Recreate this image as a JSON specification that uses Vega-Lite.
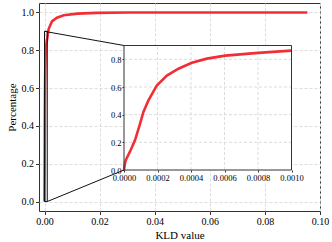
{
  "$schema": "https://vega.github.io/schema/vega-lite/v6.json",
  "width": 281,
  "height": 208,
  "autosize": {"type": "none"},
  "padding": {"left": 39, "top": 3, "right": 12, "bottom": 31},
  "config": {
    "font": "Liberation Serif",
    "view": {"stroke": "#333333", "strokeWidth": 1},
    "axis": {"labelFont": "Liberation Serif", "titleFont": "Liberation Serif", "labelColor": "#000", "titleColor": "#000", "titleFontWeight": "normal", "tickColor": "#333", "domain": false, "labelFlush": false, "labelOverlap": false}
  },
  "datasets": {
    "main": [
      {"kld": 0, "pct": 0},
      {"kld": 0.000012, "pct": 0.07},
      {"kld": 0.00004, "pct": 0.14},
      {"kld": 0.000066, "pct": 0.22},
      {"kld": 0.0001, "pct": 0.34},
      {"kld": 0.00012, "pct": 0.42},
      {"kld": 0.00015, "pct": 0.5},
      {"kld": 0.0002, "pct": 0.61},
      {"kld": 0.00026, "pct": 0.68},
      {"kld": 0.00033, "pct": 0.73},
      {"kld": 0.0004, "pct": 0.775},
      {"kld": 0.0005, "pct": 0.805},
      {"kld": 0.0006, "pct": 0.827},
      {"kld": 0.0008, "pct": 0.847},
      {"kld": 0.001, "pct": 0.863},
      {"kld": 0.0015, "pct": 0.912},
      {"kld": 0.0027, "pct": 0.953},
      {"kld": 0.0045, "pct": 0.972},
      {"kld": 0.007, "pct": 0.985},
      {"kld": 0.012, "pct": 0.994},
      {"kld": 0.019, "pct": 0.998},
      {"kld": 0.03, "pct": 0.9995},
      {"kld": 0.05, "pct": 1.0},
      {"kld": 0.0954, "pct": 1.0}
    ],
    "inset": [
      {"kld": 0, "pct": 0.0},
      {"kld": 0.000006, "pct": 0.05},
      {"kld": 0.000012, "pct": 0.075},
      {"kld": 0.00004, "pct": 0.145},
      {"kld": 0.000066, "pct": 0.216},
      {"kld": 0.000096, "pct": 0.336},
      {"kld": 0.000116, "pct": 0.42},
      {"kld": 0.000146, "pct": 0.504},
      {"kld": 0.000196, "pct": 0.611},
      {"kld": 0.000256, "pct": 0.683},
      {"kld": 0.000325, "pct": 0.732},
      {"kld": 0.000405, "pct": 0.775},
      {"kld": 0.000495, "pct": 0.805},
      {"kld": 0.000605, "pct": 0.827},
      {"kld": 0.0008, "pct": 0.847},
      {"kld": 0.001, "pct": 0.863}
    ]
  },
  "layer": [
    {
      "layer": [
        {
          "data": {"name": "main"},
          "mark": {"type": "line", "color": "#f01c24", "strokeWidth": 2.6, "opacity": 0.92},
          "encoding": {
            "x": {"field": "kld", "type": "quantitative", "scale": {"domain": [-0.002, 0.1], "nice": false, "zero": false},
              "axis": {"orient": "bottom", "values": [0, 0.02, 0.04, 0.06, 0.08, 0.1], "format": ".2f", "grid": true, "gridDash": [3, 2], "gridColor": "#dddddd", "tickSize": 3.5, "labelFontSize": 10, "labelPadding": 2, "title": "KLD value", "titleFontSize": 11, "titlePadding": 3}},
            "y": {"field": "pct", "type": "quantitative", "scale": {"domain": [-0.05, 1.05], "nice": false, "zero": false},
              "axis": {"orient": "left", "values": [0, 0.2, 0.4, 0.6, 0.8, 1.0], "format": ".1f", "grid": true, "gridDash": [3, 2], "gridColor": "#dddddd", "tickSize": 3.5, "labelFontSize": 10, "labelPadding": 2, "title": "Percentage", "titleFontSize": 11, "titlePadding": 4}}
          }
        },
        {
          "data": {"values": [{"x": 0, "x2": 0.001, "y": 0, "y2": 0.9}]},
          "mark": {"type": "rect", "fill": null, "fillOpacity": 0, "stroke": "#111", "strokeWidth": 1},
          "encoding": {
            "x": {"field": "x", "type": "quantitative"},
            "x2": {"field": "x2"},
            "y": {"field": "y", "type": "quantitative"},
            "y2": {"field": "y2"}
          }
        },
        {
          "data": {"values": [
            {"x": 0, "y": 0.9, "x2": 0.02885, "y2": 0.8252},
            {"x": 0.001, "y": 0, "x2": 0.02885, "y2": 0.1669}
          ]},
          "mark": {"type": "rule", "color": "#111", "strokeWidth": 1},
          "encoding": {
            "x": {"field": "x", "type": "quantitative"},
            "x2": {"field": "x2"},
            "y": {"field": "y", "type": "quantitative"},
            "y2": {"field": "y2"}
          }
        }
      ]
    },
    {
      "layer": [
        {
          "data": {"values": [{"x": 0, "x2": 0.001, "y": 0, "y2": 0.9}]},
          "mark": {"type": "rect", "fill": "white", "stroke": null},
          "encoding": {
            "x": {"field": "x", "type": "quantitative", "scale": {"domain": [0, 0.001], "range": [85, 252.5], "nice": false, "zero": false},
              "axis": {"orient": "bottom", "offset": -41, "values": [0, 0.0002, 0.0004, 0.0006, 0.0008, 0.001], "format": ".4f", "grid": false, "tickSize": 2, "labelFontSize": 8.5, "labelPadding": 1, "labelColor": "#000", "title": null}},
            "x2": {"field": "x2"},
            "y": {"field": "y", "type": "quantitative", "scale": {"domain": [0, 0.9], "range": [167, 42.5], "nice": false, "zero": false},
              "axis": {"orient": "left", "offset": -85, "values": [0, 0.2, 0.4, 0.6, 0.8], "format": ".1f", "grid": false, "tickSize": 2, "labelFontSize": 8.5, "labelPadding": 1, "labelColor": "#000", "title": null}},
            "y2": {"field": "y2"}
          }
        },
        {
          "data": {"values": [{"v": 0.0002}, {"v": 0.0004}, {"v": 0.0006}, {"v": 0.0008}]},
          "mark": {"type": "rule", "color": "#dddddd", "strokeDash": [3, 2], "strokeWidth": 1},
          "encoding": {
            "x": {"field": "v", "type": "quantitative"},
            "y": {"datum": 0},
            "y2": {"datum": 0.9}
          }
        },
        {
          "data": {"values": [{"v": 0.2}, {"v": 0.4}, {"v": 0.6}, {"v": 0.8}]},
          "mark": {"type": "rule", "color": "#dddddd", "strokeDash": [3, 2], "strokeWidth": 1},
          "encoding": {
            "y": {"field": "v", "type": "quantitative"},
            "x": {"datum": 0},
            "x2": {"datum": 0.001}
          }
        },
        {
          "data": {"name": "inset"},
          "mark": {"type": "line", "color": "#f01c24", "strokeWidth": 2.6, "opacity": 0.92},
          "encoding": {
            "x": {"field": "kld", "type": "quantitative"},
            "y": {"field": "pct", "type": "quantitative"}
          }
        },
        {
          "data": {"values": [{"x": 0, "x2": 0.001, "y": 0, "y2": 0.9}]},
          "mark": {"type": "rect", "fill": null, "fillOpacity": 0, "stroke": "#333333", "strokeWidth": 1},
          "encoding": {
            "x": {"field": "x", "type": "quantitative"},
            "x2": {"field": "x2"},
            "y": {"field": "y", "type": "quantitative"},
            "y2": {"field": "y2"}
          }
        }
      ]
    }
  ],
  "resolve": {"scale": {"x": "independent", "y": "independent"}, "axis": {"x": "independent", "y": "independent"}}
}
